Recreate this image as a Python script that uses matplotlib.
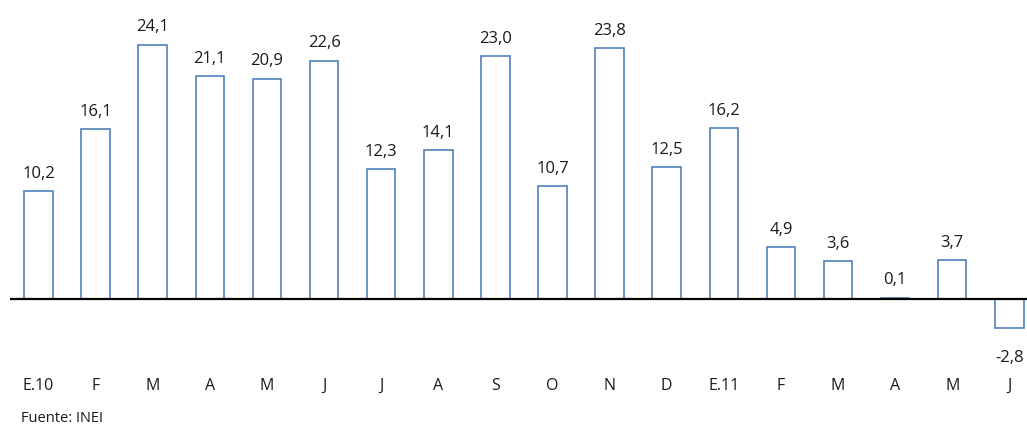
import matplotlib.pyplot as plt
import matplotlib.transforms as mtransforms

categories = ["E.10", "F", "M", "A", "M", "J", "J", "A", "S", "O", "N", "D",
              "E.11", "F", "M", "A", "M", "J"]
values = [10.2, 16.1, 24.1, 21.1, 20.9, 22.6, 12.3, 14.1, 23.0, 10.7, 23.8, 12.5,
          16.2, 4.9, 3.6, 0.1, 3.7, -2.8]
source = "Fuente: INEI"

W, H = 1027, 428
fig = plt.figure(figsize=(W / 100, H / 100), dpi=100)
plt.rcParams['font.family'] = ['Open Sans', 'DejaVu Sans']

# axes placed in pixel terms
left, right, top, bottom = 10, 1027, 20, 340
ax = fig.add_axes([left / W, 1 - bottom / H, (right - left) / W, (bottom - top) / H])
ax.set_xlim(-0.5, 17.31)
ax.set_ylim(-3.90, 26.45)
ax.axis('off')

x = list(range(len(values)))
ax.bar(x, values, width=0.5, facecolor='white', edgecolor='#4F81BD', linewidth=1.2, zorder=2)
ax.axhline(0, color='black', linewidth=1.6, zorder=3)

for xi, v in zip(x, values):
    label = f"{v:.1f}".replace('.', ',')
    if v >= 0:
        ax.annotate(label, (xi, v), xytext=(0, 12.5), textcoords='offset points',
                    ha='center', va='center', fontsize=12, color='#1a1a1a')
    else:
        ax.annotate(label, (xi, v), xytext=(0, -21), textcoords='offset points',
                    ha='center', va='center', fontsize=12, color='#1a1a1a')

trans = mtransforms.blended_transform_factory(ax.transData, fig.transFigure)
for xi, c in zip(x, categories):
    ax.text(xi, 1 - 386 / H, c, transform=trans, ha='center', va='center',
            fontsize=11.5, color='#1a1a1a', clip_on=False)

fig.text(21 / W, 1 - 418 / H, source, ha='left', va='center', fontsize=10.5, color='#1a1a1a')

fig.savefig('out.png', dpi=100)
